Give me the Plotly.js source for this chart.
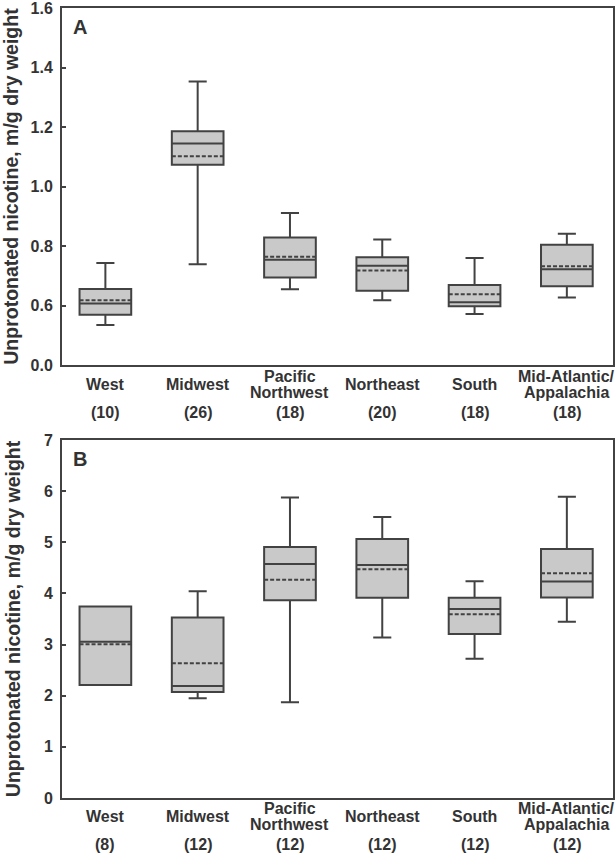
<!DOCTYPE html>
<html>
<head>
<meta charset="utf-8">
<script src="https://cdn.plot.ly/plotly-3.0.1.min.js"></script>
<style>html,body{margin:0;padding:0;background:#fff;}#chart{width:616px;height:853px;}</style>
</head>
<body>
<div id="chart"></div>
<script>
// Categories and counts
const regions = ["West", "Midwest", "Pacific Northwest", "Northeast", "South", "Mid-Atlantic/ Appalachia"];
const regionLines = [["West"], ["Midwest"], ["Pacific", "Northwest"], ["Northeast"], ["South"], ["Mid-Atlantic/", "Appalachia"]];
const countsA = ["(10)", "(26)", "(18)", "(20)", "(18)", "(18)"];
const countsB = ["(8)", "(12)", "(12)", "(12)", "(12)", "(12)"];

// Panel A statistics (axis shows a break: bottom tick "0.0" sits at 0.4)
const lowA    = [0.535, 0.739, 0.655, 0.618, 0.572, 0.627];
const q1A     = [0.569, 1.073, 0.694, 0.650, 0.598, 0.665];
const medA    = [0.607, 1.145, 0.754, 0.734, 0.611, 0.722];
const meanA   = [0.618, 1.102, 0.764, 0.718, 0.638, 0.732];
const q3A     = [0.656, 1.186, 0.829, 0.762, 0.669, 0.804];
const highA   = [0.743, 1.353, 0.911, 0.822, 0.760, 0.841];
const tickValsA = [0.4, 0.6, 0.8, 1.0, 1.2, 1.4, 1.6];
const tickTextA = ["0.0", "0.6", "0.8", "1.0", "1.2", "1.4", "1.6"];

// Panel B statistics
const lowB    = [2.210, 1.950, 1.872, 3.139, 2.723, 3.445];
const q1B     = [2.210, 2.073, 3.867, 3.913, 3.204, 3.919];
const medB    = [3.055, 2.190, 4.576, 4.556, 3.692, 4.231];
const meanB   = [3.003, 2.632, 4.264, 4.472, 3.594, 4.394];
const q3B     = [3.744, 3.529, 4.907, 5.063, 3.913, 4.868];
const highB   = [3.744, 4.043, 5.875, 5.492, 4.238, 5.888];

const ink = "#424242";
const txt = "#333333";
const fill = "#c9c9c9";
const fam = "Liberation Sans, Arial, sans-serif";

function boxTrace(low, q1, med, mean, q3, high, xa, ya) {
  return {
    type: "box", x: regions, q1: q1, median: med, q3: q3,
    lowerfence: low, upperfence: high, mean: mean, boxmean: true,
    boxpoints: false, width: 0.56, whiskerwidth: 0.35,
    fillcolor: fill, line: {color: ink, width: 2},
    xaxis: xa, yaxis: ya, showlegend: false, hoverinfo: "skip"
  };
}

const data = [
  boxTrace(lowA, q1A, medA, meanA, q3A, highA, "x", "y"),
  boxTrace(lowB, q1B, medB, meanB, q3B, highB, "x2", "y2")
];

const axisFont = {family: fam, size: 16, color: txt, weight: "bold"};
const titleFont = {family: fam, size: 19.5, color: txt, weight: "bold"};
const xCommon = {type: "category", range: [-0.47, 5.5], showticklabels: false, ticks: "",
  showgrid: false, zeroline: false, showline: true, mirror: true, linecolor: ink, linewidth: 2, fixedrange: true};
const yCommon = {ticks: "inside", ticklen: 4, tickwidth: 2, tickcolor: ink, showgrid: false, zeroline: false,
  showline: true, mirror: true, linecolor: ink, linewidth: 2, tickfont: axisFont, ticklabelstandoff: 4,
  ticklabeloverflow: "allow",
  title: {text: "Unprotonated nicotine, m/g dry weight", font: titleFont, standoff: 18}, automargin: false};

const annotations = [];
function addCatLabels(xref, nameY, countY, counts) {
  regionLines.forEach((lines, i) => {
    const n = lines.length;
    lines.forEach((ln, j) => {
      const off = (j - (n - 1) / 2) * 16;
      annotations.push({xref: xref, yref: "paper", x: regions[i], y: nameY, yshift: -off,
        text: ln, showarrow: false, font: axisFont, xanchor: "center", yanchor: "middle"});
    });
    annotations.push({xref: xref, yref: "paper", x: regions[i], y: countY,
      text: counts[i], showarrow: false, font: axisFont, xanchor: "center", yanchor: "middle"});
  });
}
addCatLabels("x", 0.523, 0.4875, countsA);
addCatLabels("x2", -0.024, -0.0593, countsB);
annotations.push({xref: "paper", yref: "paper", x: 0.033, y: 0.976, text: "A", showarrow: false,
  font: {family: fam, size: 20, color: txt, weight: "bold"}, xanchor: "center", yanchor: "middle"});
annotations.push({xref: "paper", yref: "paper", x: 0.033, y: 0.429, text: "B", showarrow: false,
  font: {family: fam, size: 20, color: txt, weight: "bold"}, xanchor: "center", yanchor: "middle"});

const layout = {
  width: 616, height: 853,
  margin: {l: 62, r: 3, t: 8, b: 55},
  paper_bgcolor: "#ffffff", plot_bgcolor: "#ffffff",
  showlegend: false,
  xaxis: Object.assign({}, xCommon, {domain: [0, 1], anchor: "y"}),
  yaxis: Object.assign({}, yCommon, {domain: [0.548, 1], anchor: "x", range: [0.4, 1.6],
    tickmode: "array", tickvals: tickValsA, ticktext: tickTextA}),
  xaxis2: Object.assign({}, xCommon, {domain: [0, 1], anchor: "y2"}),
  yaxis2: Object.assign({}, yCommon, {domain: [0, 0.4533], anchor: "x2", range: [0, 7], dtick: 1, tick0: 0}),
  annotations: annotations
};

Plotly.newPlot("chart", data, layout, {staticPlot: true, displayModeBar: false});
</script>
</body>
</html>
